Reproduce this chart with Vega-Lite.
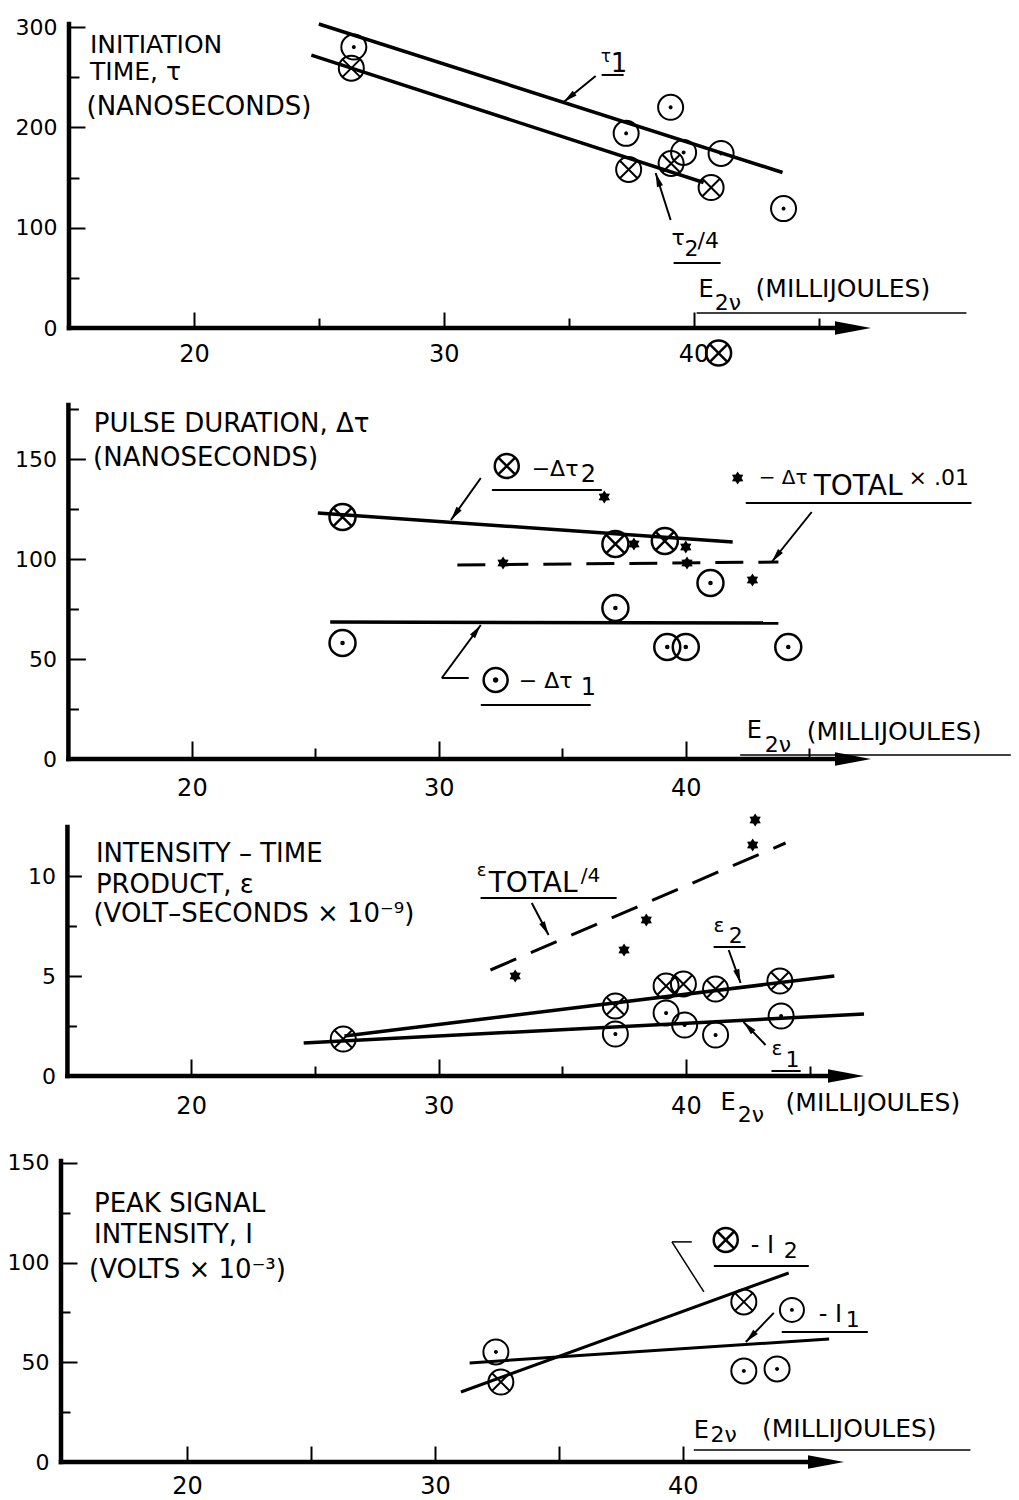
{
  "$schema": "https://vega.github.io/schema/vega-lite/v6.json",
  "background": "white",
  "padding": {"left": 7, "top": 16, "right": 2, "bottom": 2},
  "bounds": "flush",
  "spacing": 68,
  "config": {
    "view": {"stroke": null},
    "axis": {"grid": false, "domain": false, "tickColor": "black", "tickWidth": 2, "labelColor": "black", "labelFont": "DejaVu Sans", "labelFontSize": 22, "labelOverlap": false, "labelFlush": false, "labelBound": false},
    "axisX": {"labelFontSize": 24},
    "text": {"font": "DejaVu Sans", "fontSize": 24, "align": "left", "baseline": "alphabetic", "color": "black"},
    "rule": {"color": "black", "strokeWidth": 2},
    "line": {"color": "black", "strokeWidth": 3.5},
    "point": {"color": "black", "opacity": 1}
  },
  "datasets": {
    "p1pts": [
      {"E": 26.4, "v": 280, "s": "tau1"}, {"E": 37.3, "v": 194, "s": "tau1"}, {"E": 39.08, "v": 220, "s": "tau1"},
      {"E": 39.6, "v": 175, "s": "tau1"}, {"E": 41.1, "v": 174, "s": "tau1"}, {"E": 43.6, "v": 119, "s": "tau1"},
      {"E": 26.3, "v": 259, "s": "tau2/4"}, {"E": 37.4, "v": 158, "s": "tau2/4"}, {"E": 39.1, "v": 164, "s": "tau2/4"},
      {"E": 40.7, "v": 140, "s": "tau2/4"}
    ],
    "p1fit": [
      {"E": 25.0, "v": 303, "s": "tau1"}, {"E": 43.56, "v": 155, "s": "tau1"},
      {"E": 24.7, "v": 272, "s": "tau2/4"}, {"E": 40.4, "v": 145, "s": "tau2/4"}
    ],
    "p2pts": [
      {"E": 26.1, "v": 121, "s": "dtau2"}, {"E": 37.15, "v": 107.5, "s": "dtau2"}, {"E": 39.15, "v": 109, "s": "dtau2"},
      {"E": 26.1, "v": 58, "s": "dtau1"}, {"E": 37.15, "v": 75.5, "s": "dtau1"}, {"E": 41.0, "v": 88, "s": "dtau1"},
      {"E": 39.25, "v": 56, "s": "dtau1"}, {"E": 40.0, "v": 56, "s": "dtau1"}, {"E": 44.15, "v": 56, "s": "dtau1"},
      {"E": 32.6, "v": 98, "s": "dtauT"}, {"E": 36.7, "v": 131, "s": "dtauT"}, {"E": 37.9, "v": 107.5, "s": "dtauT"},
      {"E": 40.0, "v": 106, "s": "dtauT"}, {"E": 40.05, "v": 98, "s": "dtauT"}, {"E": 42.7, "v": 89.5, "s": "dtauT"}
    ],
    "p2fit": [
      {"E": 25.1, "v": 123, "s": "dtau2"}, {"E": 41.9, "v": 108.5, "s": "dtau2"},
      {"E": 25.6, "v": 68.5, "s": "dtau1"}, {"E": 43.75, "v": 68, "s": "dtau1"},
      {"E": 30.75, "v": 97, "s": "dtauT"}, {"E": 43.75, "v": 98.5, "s": "dtauT"}
    ],
    "p3pts": [
      {"E": 26.15, "v": 1.85, "s": "eps2"}, {"E": 37.15, "v": 3.5, "s": "eps2"}, {"E": 39.2, "v": 4.5, "s": "eps2"},
      {"E": 39.9, "v": 4.6, "s": "eps2"}, {"E": 41.2, "v": 4.35, "s": "eps2"}, {"E": 43.8, "v": 4.75, "s": "eps2"},
      {"E": 37.15, "v": 2.1, "s": "eps1"}, {"E": 39.2, "v": 3.15, "s": "eps1"}, {"E": 39.95, "v": 2.55, "s": "eps1"},
      {"E": 41.2, "v": 2.05, "s": "eps1"}, {"E": 43.85, "v": 3.0, "s": "eps1"},
      {"E": 33.1, "v": 5.0, "s": "epsT"}, {"E": 37.5, "v": 6.3, "s": "epsT"}, {"E": 38.4, "v": 7.8, "s": "epsT"},
      {"E": 42.7, "v": 11.55, "s": "epsT"}, {"E": 42.8, "v": 12.8, "s": "epsT"}
    ],
    "p3fit": [
      {"E": 26.2, "v": 2.0, "s": "eps2"}, {"E": 46.0, "v": 5.0, "s": "eps2"},
      {"E": 24.55, "v": 1.65, "s": "eps1"}, {"E": 47.2, "v": 3.1, "s": "eps1"},
      {"E": 32.1, "v": 5.3, "s": "epsT"}, {"E": 44.03, "v": 11.65, "s": "epsT"}
    ],
    "p4pts": [
      {"E": 32.66, "v": 40.1, "s": "I2"}, {"E": 42.46, "v": 80.3, "s": "I2"},
      {"E": 32.46, "v": 55.2, "s": "I1"}, {"E": 42.46, "v": 45.7, "s": "I1"}, {"E": 43.8, "v": 46.7, "s": "I1"}
    ],
    "p4fit": [
      {"E": 31.05, "v": 35.1, "s": "I2"}, {"E": 44.27, "v": 94.8, "s": "I2"},
      {"E": 31.4, "v": 49.7, "s": "I1"}, {"E": 45.9, "v": 61.7, "s": "I1"}
    ]
  },
  "vconcat": [
    {
      "width": 810, "height": 304,
      "data": {"values": [{}]},
      "layer": [
        {"data": {"name": "p1fit"}, "mark": "line", "encoding": {
          "x": {"field": "E", "type": "quantitative", "scale": {"domain": [14.68, 47.1], "nice": false, "zero": false},
                "axis": {"title": null, "values": [20, 25, 30, 35, 40, 45], "labelExpr": "datum.value % 10 === 0 ? datum.label : ''",
                         "tickSize": {"condition": {"test": "datum.value % 10 === 0", "value": -16}, "value": -10}, "labelPadding": 30}},
          "y": {"field": "v", "type": "quantitative", "scale": {"domain": [0, 303], "nice": false, "zero": false},
                "axis": {"title": null, "values": [0, 50, 100, 150, 200, 250, 300], "labelExpr": "datum.value % 100 === 0 ? datum.label : ''",
                         "tickSize": {"condition": {"test": "datum.value % 100 === 0", "value": -16}, "value": -10}, "labelPadding": 28, "offset": -8}},
          "detail": {"field": "s"}}},
        {"mark": {"type": "rule", "strokeWidth": 4.5, "strokeCap": "square"}, "encoding": {"x": {"datum": 15}, "y": {"datum": 0}, "y2": {"datum": 303}}},
        {"mark": {"type": "rule", "strokeWidth": 4.5, "strokeCap": "square"}, "encoding": {"x": {"datum": 15}, "x2": {"datum": 46.4}, "y": {"datum": 0}}},
        {"mark": {"type": "point", "shape": "M 0 0 L -2 -0.38 L -2 0.38 Z", "size": 1296, "filled": true}, "encoding": {"x": {"datum": 47.1}, "y": {"datum": 0}}},
        {"data": {"name": "p1pts"}, "transform": [{"filter": "datum.s === 'tau1'"}], "mark": {"type": "point", "shape": "M -1 0 A 1 1 0 1 1 1 0 A 1 1 0 1 1 -1 0 Z M -0.08 0 A 0.08 0.08 0 1 1 0.08 0 A 0.08 0.08 0 1 1 -0.08 0 Z", "size": 625, "filled": false, "strokeWidth": 2}, "encoding": {"x": {"field": "E", "type": "quantitative"}, "y": {"field": "v", "type": "quantitative"}}},
        {"data": {"name": "p1pts"}, "transform": [{"filter": "datum.s === 'tau2/4'"}], "mark": {"type": "point", "shape": "M -1 0 A 1 1 0 1 1 1 0 A 1 1 0 1 1 -1 0 Z M -0.7 -0.7 L 0.7 0.7 M -0.7 0.7 L 0.7 -0.7", "size": 625, "filled": false, "strokeWidth": 2}, "encoding": {"x": {"field": "E", "type": "quantitative"}, "y": {"field": "v", "type": "quantitative"}}},
        {"mark": {"type": "point", "shape": "M -1 0 A 1 1 0 1 1 1 0 A 1 1 0 1 1 -1 0 Z M -0.7 -0.7 L 0.7 0.7 M -0.7 0.7 L 0.7 -0.7", "size": 625, "filled": false, "strokeWidth": 2.5}, "encoding": {"x": {"datum": 41.0}, "y": {"datum": -25}}},
        {"mark": {"type": "text", "text": "INITIATION", "fontSize": 25}, "encoding": {"x": {"datum": 15.84}, "y": {"datum": 274.2}}},
        {"mark": {"type": "text", "text": "TIME, τ", "fontSize": 25}, "encoding": {"x": {"datum": 15.84}, "y": {"datum": 247.3}}},
        {"mark": {"type": "text", "text": "(NANOSECONDS)", "fontSize": 26}, "encoding": {"x": {"datum": 15.7}, "y": {"datum": 212.4}}},
        {"mark": {"type": "text", "text": "τ", "fontSize": 17}, "encoding": {"x": {"datum": 36.28}, "y": {"datum": 265.2}}},
        {"mark": {"type": "text", "text": "1", "fontSize": 26}, "encoding": {"x": {"datum": 36.68}, "y": {"datum": 255.2}}},
        {"mark": "rule", "encoding": {"x": {"datum": 36.32}, "x2": {"datum": 37.2}, "y": {"datum": 252.2}}},
        {"mark": "rule", "encoding": {"x": {"datum": 36.08}, "y": {"datum": 251.2}, "x2": {"datum": 34.8}, "y2": {"datum": 225.3}}},
        {"mark": {"type": "point", "shape": "M 0 0 L 0.45 2 L -0.45 2 Z", "size": 196, "filled": true, "angle": 231}, "encoding": {"x": {"datum": 34.8}, "y": {"datum": 225.3}}},
        {"mark": {"type": "text", "text": "τ", "fontSize": 22}, "encoding": {"x": {"datum": 39.12}, "y": {"datum": 82.8}}},
        {"mark": {"type": "text", "text": "2", "fontSize": 22}, "encoding": {"x": {"datum": 39.64}, "y": {"datum": 71.8}}},
        {"mark": {"type": "text", "text": "/4", "fontSize": 22}, "encoding": {"x": {"datum": 40.16}, "y": {"datum": 79.8}}},
        {"mark": "rule", "encoding": {"x": {"datum": 39.2}, "x2": {"datum": 41.08}, "y": {"datum": 64.8}}},
        {"mark": "rule", "encoding": {"x": {"datum": 39.08}, "y": {"datum": 107.7}, "x2": {"datum": 38.48}, "y2": {"datum": 154.5}}},
        {"mark": {"type": "point", "shape": "M 0 0 L 0.45 2 L -0.45 2 Z", "size": 196, "filled": true, "angle": 342}, "encoding": {"x": {"datum": 38.48}, "y": {"datum": 154.5}}},
        {"mark": {"type": "text", "text": "E"}, "encoding": {"x": {"datum": 40.2}, "y": {"datum": 30.9}}},
        {"mark": {"type": "text", "text": "2ν", "fontSize": 22}, "encoding": {"x": {"datum": 40.85}, "y": {"datum": 17.9}}},
        {"mark": {"type": "text", "text": "(MILLIJOULES)", "fontSize": 25}, "encoding": {"x": {"datum": 42.48}, "y": {"datum": 30.9}}},
        {"mark": {"type": "rule", "strokeWidth": 1.5}, "encoding": {"x": {"datum": 40.12}, "x2": {"datum": 50.92}, "y": {"datum": 15.0}}}
      ]
    },
    {
      "width": 810, "height": 363,
      "data": {"values": [{}]},
      "layer": [
        {"data": {"name": "p2fit"}, "transform": [{"filter": "datum.s !== 'dtauT'"}], "mark": "line", "encoding": {
          "x": {"field": "E", "type": "quantitative", "scale": {"domain": [14.7, 47.5], "nice": false, "zero": false},
                "axis": {"title": null, "values": [20, 25, 30, 35, 40, 45], "labelExpr": "datum.value % 10 === 0 ? datum.label : ''",
                         "tickSize": {"condition": {"test": "datum.value % 10 === 0", "value": -18}, "value": -11}, "labelPadding": 35}},
          "y": {"field": "v", "type": "quantitative", "scale": {"domain": [0, 181.5], "nice": false, "zero": false},
                "axis": {"title": null, "values": [0, 25, 50, 75, 100, 125, 150, 175], "labelExpr": "datum.value % 50 === 0 ? datum.label : ''",
                         "tickSize": {"condition": {"test": "datum.value % 50 === 0", "value": -17}, "value": -10}, "labelPadding": 29, "offset": -7.4}},
          "detail": {"field": "s"}}},
        {"mark": {"type": "rule", "strokeWidth": 4.5, "strokeCap": "square"}, "encoding": {"x": {"datum": 15}, "y": {"datum": 0}, "y2": {"datum": 177}}},
        {"mark": {"type": "rule", "strokeWidth": 4.5, "strokeCap": "square"}, "encoding": {"x": {"datum": 15}, "x2": {"datum": 46.8}, "y": {"datum": 0}}},
        {"mark": {"type": "point", "shape": "M 0 0 L -2 -0.38 L -2 0.38 Z", "size": 1296, "filled": true}, "encoding": {"x": {"datum": 47.5}, "y": {"datum": 0}}},
        {"data": {"name": "p2fit"}, "transform": [{"filter": "datum.s === 'dtauT'"}], "mark": {"type": "line", "strokeDash": [28, 15], "strokeWidth": 3}, "encoding": {"x": {"field": "E", "type": "quantitative"}, "y": {"field": "v", "type": "quantitative"}}},
        {"data": {"name": "p2pts"}, "transform": [{"filter": "datum.s === 'dtau1'"}], "mark": {"type": "point", "shape": "M -1 0 A 1 1 0 1 1 1 0 A 1 1 0 1 1 -1 0 Z M -0.08 0 A 0.08 0.08 0 1 1 0.08 0 A 0.08 0.08 0 1 1 -0.08 0 Z", "size": 676, "filled": false, "strokeWidth": 2.5}, "encoding": {"x": {"field": "E", "type": "quantitative"}, "y": {"field": "v", "type": "quantitative"}}},
        {"data": {"name": "p2pts"}, "transform": [{"filter": "datum.s === 'dtau2'"}], "mark": {"type": "point", "shape": "M -1 0 A 1 1 0 1 1 1 0 A 1 1 0 1 1 -1 0 Z M -0.7 -0.7 L 0.7 0.7 M -0.7 0.7 L 0.7 -0.7", "size": 676, "filled": false, "strokeWidth": 2.5}, "encoding": {"x": {"field": "E", "type": "quantitative"}, "y": {"field": "v", "type": "quantitative"}}},
        {"data": {"name": "p2pts"}, "transform": [{"filter": "datum.s === 'dtauT'"}], "mark": {"type": "point", "shape": "M 0 -1 L 0.3 -0.52 L 0.87 -0.5 L 0.6 0 L 0.87 0.5 L 0.3 0.52 L 0 1 L -0.3 0.52 L -0.87 0.5 L -0.6 0 L -0.87 -0.5 L -0.3 -0.52 Z", "size": 169, "filled": true}, "encoding": {"x": {"field": "E", "type": "quantitative"}, "y": {"field": "v", "type": "quantitative"}}},
        {"mark": {"type": "text", "text": "PULSE DURATION, Δτ", "fontSize": 26}, "encoding": {"x": {"datum": 16.03}, "y": {"datum": 163.5}}},
        {"mark": {"type": "text", "text": "(NANOSECONDS)", "fontSize": 26}, "encoding": {"x": {"datum": 16.0}, "y": {"datum": 146.5}}},
        {"mark": {"type": "point", "shape": "M -1 0 A 1 1 0 1 1 1 0 A 1 1 0 1 1 -1 0 Z M -0.7 -0.7 L 0.7 0.7 M -0.7 0.7 L 0.7 -0.7", "size": 576, "filled": false, "strokeWidth": 2.5}, "encoding": {"x": {"datum": 32.75}, "y": {"datum": 146.5}}},
        {"mark": {"type": "text", "text": "−Δτ", "fontSize": 22}, "encoding": {"x": {"datum": 33.76}, "y": {"datum": 141.5}}},
        {"mark": {"type": "text", "text": "2", "fontSize": 24}, "encoding": {"x": {"datum": 35.75}, "y": {"datum": 138.5}}},
        {"mark": "rule", "encoding": {"x": {"datum": 32.15}, "x2": {"datum": 36.6}, "y": {"datum": 134.5}}},
        {"mark": "rule", "encoding": {"x": {"datum": 31.7}, "y": {"datum": 140.5}, "x2": {"datum": 30.49}, "y2": {"datum": 119.5}}},
        {"mark": {"type": "point", "shape": "M 0 0 L 0.45 2 L -0.45 2 Z", "size": 196, "filled": true, "angle": 215.5}, "encoding": {"x": {"datum": 30.49}, "y": {"datum": 119.5}}},
        {"mark": {"type": "point", "shape": "M 0 -1 L 0.3 -0.52 L 0.87 -0.5 L 0.6 0 L 0.87 0.5 L 0.3 0.52 L 0 1 L -0.3 0.52 L -0.87 0.5 L -0.6 0 L -0.87 -0.5 L -0.3 -0.52 Z", "size": 169, "filled": true}, "encoding": {"x": {"datum": 42.1}, "y": {"datum": 140.5}}},
        {"mark": {"type": "text", "text": "− Δτ", "fontSize": 20}, "encoding": {"x": {"datum": 42.95}, "y": {"datum": 137.5}}},
        {"mark": {"type": "text", "text": "TOTAL", "fontSize": 28}, "encoding": {"x": {"datum": 45.18}, "y": {"datum": 132}}},
        {"mark": {"type": "text", "text": "× .01", "fontSize": 22}, "encoding": {"x": {"datum": 49.02}, "y": {"datum": 137}}},
        {"mark": "rule", "encoding": {"x": {"datum": 42.43}, "x2": {"datum": 51.57}, "y": {"datum": 128}}},
        {"mark": "rule", "encoding": {"x": {"datum": 45.1}, "y": {"datum": 123.5}, "x2": {"datum": 43.48}, "y2": {"datum": 98.5}}},
        {"mark": {"type": "point", "shape": "M 0 0 L 0.45 2 L -0.45 2 Z", "size": 196, "filled": true, "angle": 218.7}, "encoding": {"x": {"datum": 43.48}, "y": {"datum": 98.5}}},
        {"mark": {"type": "point", "shape": "M -1 0 A 1 1 0 1 1 1 0 A 1 1 0 1 1 -1 0 Z M -0.12 0 A 0.12 0.12 0 1 1 0.12 0 A 0.12 0.12 0 1 1 -0.12 0 Z", "size": 576, "filled": false, "strokeWidth": 2.5}, "encoding": {"x": {"datum": 32.3}, "y": {"datum": 39.5}}},
        {"mark": {"type": "text", "text": "− Δτ", "fontSize": 22}, "encoding": {"x": {"datum": 33.24}, "y": {"datum": 35.5}}},
        {"mark": {"type": "text", "text": "1", "fontSize": 24}, "encoding": {"x": {"datum": 35.75}, "y": {"datum": 32}}},
        {"mark": "rule", "encoding": {"x": {"datum": 31.7}, "x2": {"datum": 36.15}, "y": {"datum": 27}}},
        {"mark": "rule", "encoding": {"x": {"datum": 30.12}, "y": {"datum": 40.5}, "x2": {"datum": 31.7}, "y2": {"datum": 67}}},
        {"mark": "rule", "encoding": {"x": {"datum": 30.12}, "x2": {"datum": 31.21}, "y": {"datum": 40.5}}},
        {"mark": {"type": "point", "shape": "M 0 0 L 0.45 2 L -0.45 2 Z", "size": 196, "filled": true, "angle": 36.3}, "encoding": {"x": {"datum": 31.7}, "y": {"datum": 67}}},
        {"mark": {"type": "text", "text": "E"}, "encoding": {"x": {"datum": 42.47}, "y": {"datum": 10.5}}},
        {"mark": {"type": "text", "text": "2ν", "fontSize": 22}, "encoding": {"x": {"datum": 43.2}, "y": {"datum": 3.5}}},
        {"mark": {"type": "text", "text": "(MILLIJOULES)", "fontSize": 25}, "encoding": {"x": {"datum": 44.9}, "y": {"datum": 9.5}}},
        {"mark": {"type": "rule", "strokeWidth": 1.5}, "encoding": {"x": {"datum": 42.2}, "x2": {"datum": 53.16}, "y": {"datum": 2.0}}}
      ]
    },
    {
      "width": 803, "height": 249,
      "data": {"values": [{}]},
      "layer": [
        {"data": {"name": "p3fit"}, "transform": [{"filter": "datum.s !== 'epsT'"}], "mark": "line", "encoding": {
          "x": {"field": "E", "type": "quantitative", "scale": {"domain": [14.74, 47.2], "nice": false, "zero": false},
                "axis": {"title": null, "values": [20, 25, 30, 35, 40, 45], "labelExpr": "datum.value % 10 === 0 ? datum.label : ''",
                         "tickSize": {"condition": {"test": "datum.value % 10 === 0", "value": -17}, "value": -10}, "labelPadding": 35}},
          "y": {"field": "v", "type": "quantitative", "scale": {"domain": [0, 12.45], "nice": false, "zero": false},
                "axis": {"title": null, "values": [0, 2.5, 5, 7.5, 10], "labelExpr": "datum.value % 5 === 0 ? datum.label : ''",
                         "tickSize": {"condition": {"test": "datum.value % 5 === 0", "value": -14}, "value": -9}, "labelPadding": 26, "offset": -6.4}},
          "detail": {"field": "s"}}},
        {"mark": {"type": "rule", "strokeWidth": 4.5, "strokeCap": "square"}, "encoding": {"x": {"datum": 15}, "y": {"datum": 0}, "y2": {"datum": 12.45}}},
        {"mark": {"type": "rule", "strokeWidth": 4.5, "strokeCap": "square"}, "encoding": {"x": {"datum": 15}, "x2": {"datum": 46.5}, "y": {"datum": 0}}},
        {"mark": {"type": "point", "shape": "M 0 0 L -2 -0.38 L -2 0.38 Z", "size": 1296, "filled": true}, "encoding": {"x": {"datum": 47.2}, "y": {"datum": 0}}},
        {"data": {"name": "p3fit"}, "transform": [{"filter": "datum.s === 'epsT'"}], "mark": {"type": "line", "strokeDash": [28, 16], "strokeWidth": 3}, "encoding": {"x": {"field": "E", "type": "quantitative"}, "y": {"field": "v", "type": "quantitative"}}},
        {"data": {"name": "p3pts"}, "transform": [{"filter": "datum.s === 'eps1'"}], "mark": {"type": "point", "shape": "M -1 0 A 1 1 0 1 1 1 0 A 1 1 0 1 1 -1 0 Z M -0.08 0 A 0.08 0.08 0 1 1 0.08 0 A 0.08 0.08 0 1 1 -0.08 0 Z", "size": 625, "filled": false, "strokeWidth": 2}, "encoding": {"x": {"field": "E", "type": "quantitative"}, "y": {"field": "v", "type": "quantitative"}}},
        {"data": {"name": "p3pts"}, "transform": [{"filter": "datum.s === 'eps2'"}], "mark": {"type": "point", "shape": "M -1 0 A 1 1 0 1 1 1 0 A 1 1 0 1 1 -1 0 Z M -0.7 -0.7 L 0.7 0.7 M -0.7 0.7 L 0.7 -0.7", "size": 625, "filled": false, "strokeWidth": 2}, "encoding": {"x": {"field": "E", "type": "quantitative"}, "y": {"field": "v", "type": "quantitative"}}},
        {"data": {"name": "p3pts"}, "transform": [{"filter": "datum.s === 'epsT'"}], "mark": {"type": "point", "shape": "M 0 -1 L 0.3 -0.52 L 0.87 -0.5 L 0.6 0 L 0.87 0.5 L 0.3 0.52 L 0 1 L -0.3 0.52 L -0.87 0.5 L -0.6 0 L -0.87 -0.5 L -0.3 -0.52 Z", "size": 169, "filled": true}, "encoding": {"x": {"field": "E", "type": "quantitative"}, "y": {"field": "v", "type": "quantitative"}}},
        {"mark": {"type": "text", "text": "INTENSITY – TIME", "fontSize": 26}, "encoding": {"x": {"datum": 16.15}, "y": {"datum": 10.7}}},
        {"mark": {"type": "text", "text": "PRODUCT, ε", "fontSize": 26}, "encoding": {"x": {"datum": 16.15}, "y": {"datum": 9.15}}},
        {"mark": {"type": "text", "text": "(VOLT–SECONDS × 10⁻⁹)", "fontSize": 26}, "encoding": {"x": {"datum": 16.05}, "y": {"datum": 7.7}}},
        {"mark": {"type": "text", "text": "ε", "fontSize": 18}, "encoding": {"x": {"datum": 31.55}, "y": {"datum": 10.0}}},
        {"mark": {"type": "text", "text": "TOTAL", "fontSize": 28}, "encoding": {"x": {"datum": 32.03}, "y": {"datum": 9.2}}},
        {"mark": {"type": "text", "text": "/4", "fontSize": 20}, "encoding": {"x": {"datum": 35.75}, "y": {"datum": 9.7}}},
        {"mark": "rule", "encoding": {"x": {"datum": 31.7}, "x2": {"datum": 37.2}, "y": {"datum": 8.9}}},
        {"mark": "rule", "encoding": {"x": {"datum": 33.77}, "y": {"datum": 8.65}, "x2": {"datum": 34.45}, "y2": {"datum": 7.05}}},
        {"mark": {"type": "point", "shape": "M 0 0 L 0.45 2 L -0.45 2 Z", "size": 196, "filled": true, "angle": 152}, "encoding": {"x": {"datum": 34.45}, "y": {"datum": 7.05}}},
        {"mark": {"type": "text", "text": "ε", "fontSize": 20}, "encoding": {"x": {"datum": 41.12}, "y": {"datum": 7.2}}},
        {"mark": {"type": "text", "text": "2", "fontSize": 22}, "encoding": {"x": {"datum": 41.73}, "y": {"datum": 6.65}}},
        {"mark": "rule", "encoding": {"x": {"datum": 41.12}, "x2": {"datum": 42.41}, "y": {"datum": 6.45}}},
        {"mark": "rule", "encoding": {"x": {"datum": 41.73}, "y": {"datum": 6.3}, "x2": {"datum": 42.21}, "y2": {"datum": 4.65}}},
        {"mark": {"type": "point", "shape": "M 0 0 L 0.45 2 L -0.45 2 Z", "size": 196, "filled": true, "angle": 162}, "encoding": {"x": {"datum": 42.21}, "y": {"datum": 4.65}}},
        {"mark": {"type": "text", "text": "ε", "fontSize": 20}, "encoding": {"x": {"datum": 43.46}, "y": {"datum": 1.05}}},
        {"mark": {"type": "text", "text": "1", "fontSize": 22}, "encoding": {"x": {"datum": 44.03}, "y": {"datum": 0.45}}},
        {"mark": "rule", "encoding": {"x": {"datum": 43.46}, "x2": {"datum": 44.64}, "y": {"datum": 0.25}}},
        {"mark": "rule", "encoding": {"x": {"datum": 43.22}, "y": {"datum": 1.55}, "x2": {"datum": 42.33}, "y2": {"datum": 2.7}}},
        {"mark": {"type": "point", "shape": "M 0 0 L 0.45 2 L -0.45 2 Z", "size": 196, "filled": true, "angle": 316.3}, "encoding": {"x": {"datum": 42.33}, "y": {"datum": 2.7}}},
        {"mark": {"type": "text", "text": "E"}, "encoding": {"x": {"datum": 41.4}, "y": {"datum": -1.7}}},
        {"mark": {"type": "text", "text": "2ν", "fontSize": 22}, "encoding": {"x": {"datum": 42.1}, "y": {"datum": -2.3}}},
        {"mark": {"type": "text", "text": "(MILLIJOULES)", "fontSize": 25}, "encoding": {"x": {"datum": 44.03}, "y": {"datum": -1.75}}}
      ]
    },
    {
      "width": 783, "height": 318,
      "data": {"values": [{}]},
      "layer": [
        {"data": {"name": "p4fit"}, "mark": {"type": "line", "strokeWidth": 3}, "encoding": {
          "x": {"field": "E", "type": "quantitative", "scale": {"domain": [14.92, 46.5], "nice": false, "zero": false},
                "axis": {"title": null, "values": [20, 25, 30, 35, 40], "labelExpr": "datum.value % 10 === 0 ? datum.label : ''",
                         "tickSize": -16, "labelPadding": 28}},
          "y": {"field": "v", "type": "quantitative", "scale": {"domain": [0, 159.5], "nice": false, "zero": false},
                "axis": {"title": null, "values": [0, 25, 50, 75, 100, 125, 150], "labelExpr": "datum.value % 50 === 0 ? datum.label : ''",
                         "tickSize": {"condition": {"test": "datum.value % 50 === 0", "value": -16}, "value": -9}, "labelPadding": 28}},
          "detail": {"field": "s"}}},
        {"mark": {"type": "rule", "strokeWidth": 4.5, "strokeCap": "square"}, "encoding": {"x": {"datum": 14.92}, "y": {"datum": 0}, "y2": {"datum": 151}}},
        {"mark": {"type": "rule", "strokeWidth": 4.5, "strokeCap": "square"}, "encoding": {"x": {"datum": 14.92}, "x2": {"datum": 45.8}, "y": {"datum": 0}}},
        {"mark": {"type": "point", "shape": "M 0 0 L -2 -0.38 L -2 0.38 Z", "size": 1296, "filled": true}, "encoding": {"x": {"datum": 46.5}, "y": {"datum": 0}}},
        {"data": {"name": "p4pts"}, "transform": [{"filter": "datum.s === 'I1'"}], "mark": {"type": "point", "shape": "M -1 0 A 1 1 0 1 1 1 0 A 1 1 0 1 1 -1 0 Z M -0.08 0 A 0.08 0.08 0 1 1 0.08 0 A 0.08 0.08 0 1 1 -0.08 0 Z", "size": 625, "filled": false, "strokeWidth": 2}, "encoding": {"x": {"field": "E", "type": "quantitative"}, "y": {"field": "v", "type": "quantitative"}}},
        {"data": {"name": "p4pts"}, "transform": [{"filter": "datum.s === 'I2'"}], "mark": {"type": "point", "shape": "M -1 0 A 1 1 0 1 1 1 0 A 1 1 0 1 1 -1 0 Z M -0.7 -0.7 L 0.7 0.7 M -0.7 0.7 L 0.7 -0.7", "size": 625, "filled": false, "strokeWidth": 2}, "encoding": {"x": {"field": "E", "type": "quantitative"}, "y": {"field": "v", "type": "quantitative"}}},
        {"mark": {"type": "text", "text": "PEAK SIGNAL", "fontSize": 26}, "encoding": {"x": {"datum": 16.25}, "y": {"datum": 125.4}}},
        {"mark": {"type": "text", "text": "INTENSITY, I", "fontSize": 26}, "encoding": {"x": {"datum": 16.25}, "y": {"datum": 109.9}}},
        {"mark": {"type": "text", "text": "(VOLTS × 10⁻³)", "fontSize": 26}, "encoding": {"x": {"datum": 16.05}, "y": {"datum": 92.3}}},
        {"mark": {"type": "point", "shape": "M -1 0 A 1 1 0 1 1 1 0 A 1 1 0 1 1 -1 0 Z M -0.7 -0.7 L 0.7 0.7 M -0.7 0.7 L 0.7 -0.7", "size": 576, "filled": false, "strokeWidth": 2.5}, "encoding": {"x": {"datum": 41.73}, "y": {"datum": 111.4}}},
        {"mark": {"type": "text", "text": "- I"}, "encoding": {"x": {"datum": 42.74}, "y": {"datum": 104.9}}},
        {"mark": {"type": "text", "text": "2", "fontSize": 22}, "encoding": {"x": {"datum": 44.07}, "y": {"datum": 102.4}}},
        {"mark": "rule", "encoding": {"x": {"datum": 41.25}, "x2": {"datum": 45.08}, "y": {"datum": 98.3}}},
        {"mark": {"type": "rule", "strokeWidth": 1.5}, "encoding": {"x": {"datum": 39.56}, "x2": {"datum": 40.36}, "y": {"datum": 110.4}}},
        {"mark": {"type": "rule", "strokeWidth": 1.5}, "encoding": {"x": {"datum": 39.56}, "y": {"datum": 110.4}, "x2": {"datum": 40.85}, "y2": {"datum": 85.3}}},
        {"mark": {"type": "point", "shape": "M -1 0 A 1 1 0 1 1 1 0 A 1 1 0 1 1 -1 0 Z M -0.08 0 A 0.08 0.08 0 1 1 0.08 0 A 0.08 0.08 0 1 1 -0.08 0 Z", "size": 576, "filled": false, "strokeWidth": 2}, "encoding": {"x": {"datum": 44.4}, "y": {"datum": 76.3}}},
        {"mark": {"type": "text", "text": "- I"}, "encoding": {"x": {"datum": 45.48}, "y": {"datum": 70.2}}},
        {"mark": {"type": "text", "text": "1", "fontSize": 22}, "encoding": {"x": {"datum": 46.57}, "y": {"datum": 67.7}}},
        {"mark": "rule", "encoding": {"x": {"datum": 43.99}, "x2": {"datum": 47.46}, "y": {"datum": 65.2}}},
        {"mark": "rule", "encoding": {"x": {"datum": 43.67}, "y": {"datum": 74.8}, "x2": {"datum": 42.54}, "y2": {"datum": 60.2}}},
        {"mark": {"type": "point", "shape": "M 0 0 L 0.45 2 L -0.45 2 Z", "size": 196, "filled": true, "angle": 224}, "encoding": {"x": {"datum": 42.54}, "y": {"datum": 60.2}}},
        {"mark": {"type": "text", "text": "E"}, "encoding": {"x": {"datum": 40.44}, "y": {"datum": 12.0}}},
        {"mark": {"type": "text", "text": "2ν", "fontSize": 22}, "encoding": {"x": {"datum": 41.12}, "y": {"datum": 10.0}}},
        {"mark": {"type": "text", "text": "(MILLIJOULES)", "fontSize": 25}, "encoding": {"x": {"datum": 43.19}, "y": {"datum": 12.5}}},
        {"mark": {"type": "rule", "strokeWidth": 1.5}, "encoding": {"x": {"datum": 40.44}, "x2": {"datum": 51.6}, "y": {"datum": 6.0}}}
      ]
    }
  ]
}
